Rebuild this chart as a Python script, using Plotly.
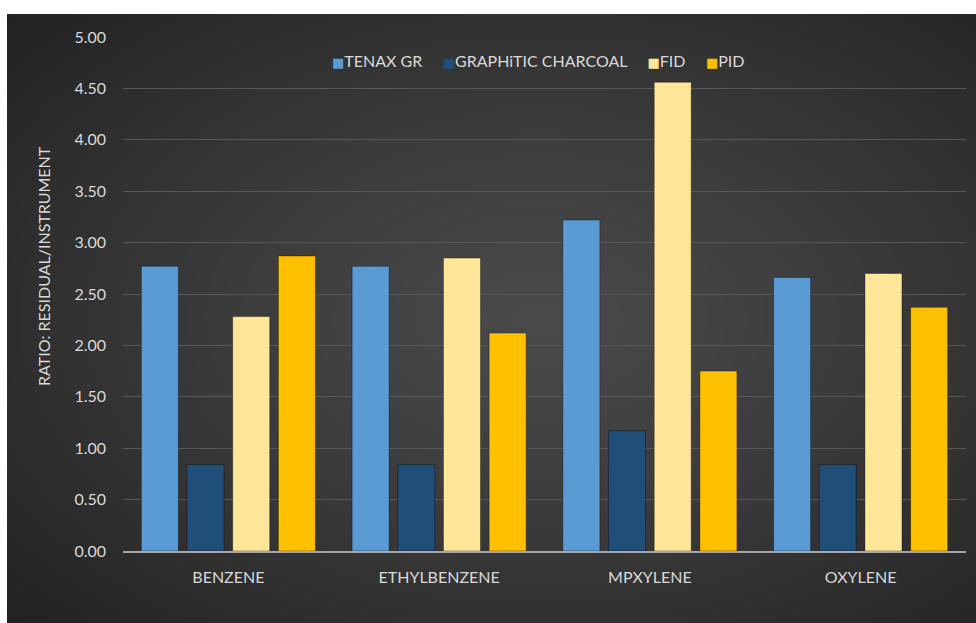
import base64
import struct
import zlib

import numpy as np
import plotly.graph_objects as go

# Compounds and measured ratios (residual / instrument)
compounds = ["BENZENE", "ETHYLBENZENE", "MPXYLENE", "OXYLENE"]
tenax_gr = [2.77, 2.77, 3.22, 2.66]
graphitic_charcoal = [0.84, 0.84, 1.17, 0.84]
fid = [2.28, 2.85, 4.56, 2.70]
pid = [2.87, 2.12, 1.75, 2.37]
y_ticks = [0, 0.5, 1, 1.5, 2, 2.5, 3, 3.5, 4, 4.5, 5]

series = [
    ("TENAX GR", tenax_gr, "#5b9bd5"),
    ("GRAPHiTIC CHARCOAL", graphitic_charcoal, "#1f4e79"),
    ("FID", fid, "#ffe699"),
    ("PID", pid, "#ffc000"),
]


def radial_png(w, h, cx, cy, inner, outer):
    """Build a small PNG with a radial grey gradient, returned as a data URI."""
    yy, xx = np.mgrid[0:h, 0:w]
    dx = (xx / (w - 1) - cx) / 0.75
    dy = (yy / (h - 1) - cy) / 0.75
    r = np.clip(np.sqrt(dx * dx + dy * dy), 0, 1)
    v = inner + (outer - inner) * r ** 1.2
    img = np.repeat(v[:, :, None], 3, axis=2).astype(np.uint8)
    raw = b"".join(b"\x00" + img[i].tobytes() for i in range(h))

    def chunk(tag, data):
        c = struct.pack(">I", len(data)) + tag + data
        return c + struct.pack(">I", zlib.crc32(tag + data) & 0xFFFFFFFF)

    png = b"\x89PNG\r\n\x1a\n"
    png += chunk(b"IHDR", struct.pack(">IIBBBBB", w, h, 8, 2, 0, 0, 0))
    png += chunk(b"IDAT", zlib.compress(raw, 9))
    png += chunk(b"IEND", b"")
    return "data:image/png;base64," + base64.b64encode(png).decode()


W, H = 976, 623
ml, mr, mt, mb = 123, 10, 37, 72
pw, ph = W - ml - mr, H - mt - mb
text_color = "#d9d9d9"
font_family = "Lato, 'Open Sans', sans-serif"

fig = go.Figure()
for name, vals, color in series:
    fig.add_trace(go.Bar(
        x=compounds, y=vals, name=name, showlegend=False,
        marker=dict(color=color, line=dict(color="rgba(0,0,0,0.35)", width=1)),
    ))

# Compact legend row: coloured square glyph followed by the series name
legend_text = "&nbsp;&nbsp;&nbsp;&nbsp;&nbsp;".join(
    f"<span style='color:{color};font-family:DejaVu Sans;font-size:13px'>■</span>{name}"
    for name, _, color in series
)
fig.add_annotation(
    text=legend_text, xref="paper", yref="paper", x=0.492, y=0.955,
    xanchor="center", yanchor="middle", showarrow=False,
    font=dict(size=16, color=text_color, family=font_family),
)

# Vertical axis title, sitting a little above the plot's mid-height
fig.add_annotation(
    text="RATIO: RESIDUAL/INSTRUMENT", xref="paper", yref="paper",
    x=(43 - ml) / pw, y=(H - mb - 266) / ph, textangle=-90,
    xanchor="center", yanchor="middle", showarrow=False,
    font=dict(size=16, color=text_color, family=font_family),
)

bg = radial_png(240, 150, 0.55, 0.5, 74, 34)
fig.add_layout_image(dict(
    source=bg, xref="paper", yref="paper",
    x=(7 - ml) / pw, y=(H - mb - 14) / ph,
    sizex=(W - 7) / pw, sizey=(H - 14) / ph,
    xanchor="left", yanchor="top", sizing="stretch", layer="below",
))

fig.update_layout(
    width=W, height=H,
    margin=dict(l=ml, r=mr, t=mt, b=mb, pad=0),
    paper_bgcolor="white",
    plot_bgcolor="rgba(0,0,0,0)",
    barmode="group", bargap=0.133, bargroupgap=0.19,
    font=dict(family=font_family, color=text_color, size=16),
    showlegend=False,
    xaxis=dict(
        showgrid=False, showline=True, linecolor="#a6a6a6", linewidth=2,
        ticks="", tickfont=dict(size=16, color=text_color), ticklabelstandoff=11,
    ),
    yaxis=dict(
        range=[0, 5], tickvals=y_ticks, tickformat=".2f",
        showgrid=True, gridcolor="#575757", gridwidth=1, zeroline=False,
        ticks="", tickfont=dict(size=16, color=text_color), ticklabelstandoff=16,
    ),
)

fig.write_html("out.html")
